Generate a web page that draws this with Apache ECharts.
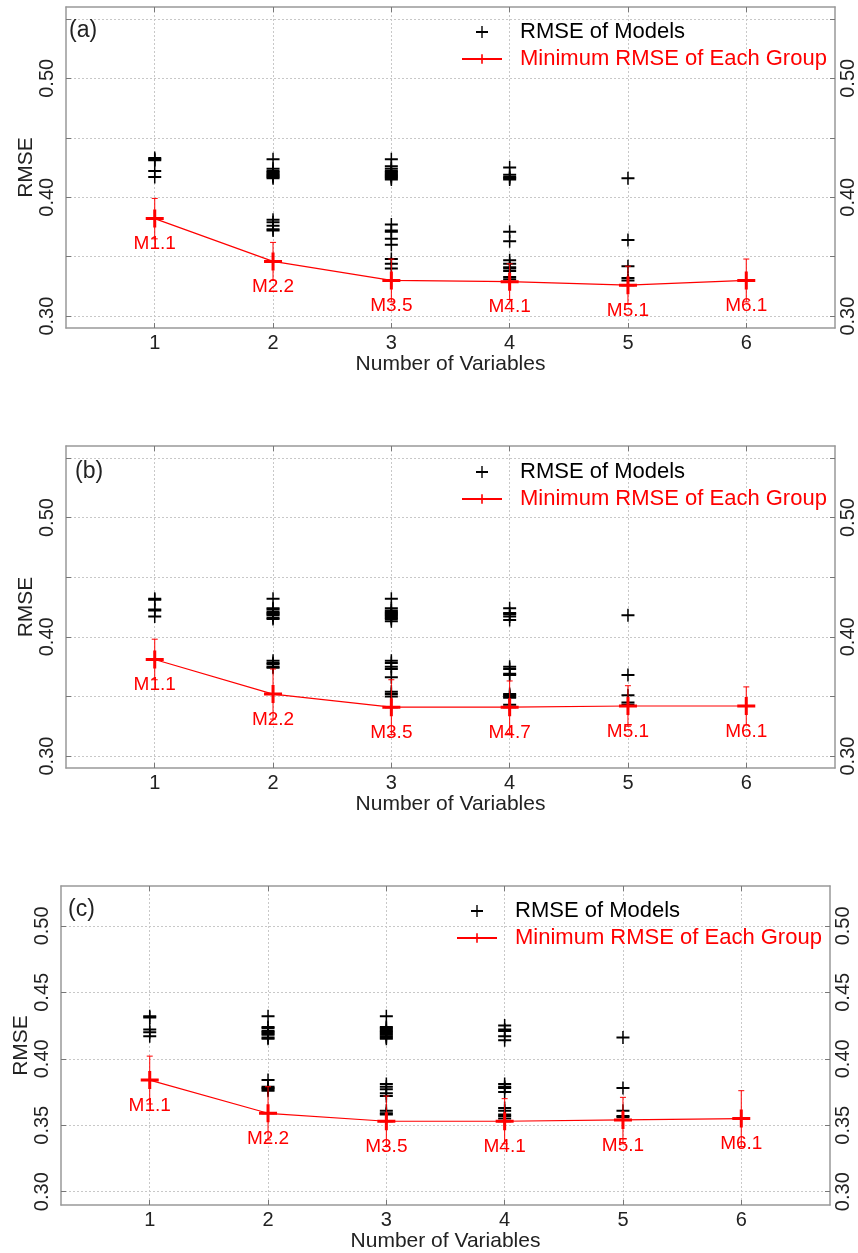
<!DOCTYPE html>
<html>
<head>
<meta charset="utf-8">
<script src="https://cdn.jsdelivr.net/npm/echarts@6/dist/echarts.min.js"></script>
<style>
html, body { margin: 0; padding: 0; background: #fff; }
#main { width: 858px; height: 1253px; }
</style>
</head>
<body>
<div id="main"></div>
<script>
// number of variables (x categories)
var xVars = [1, 2, 3, 4, 5, 6];

// RMSE of every model, grouped by number of variables -- panel (a)
var modelsA = [
    [0.433, 0.432, 0.431, 0.422, 0.417, 0.382],
    [0.432, 0.424, 0.422, 0.421, 0.420, 0.419, 0.418, 0.417, 0.416, 0.381, 0.379, 0.376, 0.373, 0.372, 0.346],
    [0.432, 0.426, 0.424, 0.422, 0.421, 0.420, 0.419, 0.418, 0.417, 0.416, 0.415, 0.377, 0.372, 0.371, 0.365, 0.360, 0.348, 0.344, 0.340, 0.330],
    [0.425, 0.419, 0.417, 0.416, 0.415, 0.371, 0.363, 0.347, 0.344, 0.341, 0.340, 0.338, 0.333, 0.331, 0.329],
    [0.416, 0.364, 0.342, 0.332, 0.330, 0.326],
    [0.330]
];
// panel (b)
var modelsB = [
    [0.432, 0.431, 0.423, 0.422, 0.417, 0.381],
    [0.432, 0.424, 0.423, 0.421, 0.420, 0.419, 0.418, 0.416, 0.415, 0.380, 0.378, 0.377, 0.375, 0.374, 0.352],
    [0.432, 0.424, 0.422, 0.421, 0.420, 0.419, 0.418, 0.417, 0.416, 0.415, 0.413, 0.380, 0.378, 0.375, 0.373, 0.366, 0.354, 0.352, 0.350, 0.341],
    [0.424, 0.420, 0.419, 0.417, 0.414, 0.375, 0.373, 0.369, 0.368, 0.352, 0.351, 0.350, 0.349, 0.343, 0.341],
    [0.418, 0.368, 0.351, 0.345, 0.343, 0.342],
    [0.342]
];
// panel (c)
var modelsC = [
    [0.432, 0.431, 0.422, 0.420, 0.417, 0.384],
    [0.432, 0.424, 0.423, 0.421, 0.420, 0.419, 0.418, 0.416, 0.415, 0.384, 0.379, 0.378, 0.377, 0.376, 0.359],
    [0.432, 0.424, 0.423, 0.422, 0.421, 0.420, 0.419, 0.418, 0.417, 0.416, 0.415, 0.381, 0.379, 0.377, 0.374, 0.372, 0.361, 0.359, 0.358, 0.353],
    [0.425, 0.422, 0.421, 0.417, 0.414, 0.381, 0.379, 0.378, 0.375, 0.363, 0.361, 0.358, 0.357, 0.355, 0.353],
    [0.416, 0.378, 0.361, 0.357, 0.356, 0.354],
    [0.355]
];

// minimum RMSE of each group and its error
var minA = [0.382, 0.346, 0.330, 0.329, 0.326, 0.330];
var errA = [0.017, 0.016, 0.018, 0.015, 0.016, 0.018];
var minB = [0.381, 0.352, 0.341, 0.341, 0.342, 0.342];
var errB = [0.017, 0.021, 0.023, 0.022, 0.017, 0.016];
var minC = [0.384, 0.359, 0.353, 0.353, 0.354, 0.355];
var errC = [0.018, 0.020, 0.019, 0.017, 0.017, 0.021];

// best model names
var namesA = ['M1.1', 'M2.2', 'M3.5', 'M4.1', 'M5.1', 'M6.1'];
var namesB = ['M1.1', 'M2.2', 'M3.5', 'M4.7', 'M5.1', 'M6.1'];
var namesC = ['M1.1', 'M2.2', 'M3.5', 'M4.1', 'M5.1', 'M6.1'];

// y axis ticks / labels
var yTicksAB = [0.30, 0.35, 0.40, 0.45, 0.50, 0.55];
var yLabelsAB = [0.30, 0.40, 0.50];
var yTicksC = [0.30, 0.35, 0.40, 0.45, 0.50];
var yLabelsC = [0.30, 0.35, 0.40, 0.45, 0.50];

var FONT = 'Liberation Sans, Arial, sans-serif';
var plusBlack = 'path://M0,5.5H13V7.5H0Z M5.75,0H7.25V13H5.75Z';
var plusRed = 'path://M0,7.5H18V10.5H0Z M7.5,0H10.5V18H7.5Z';

var panels = [
    { tag: '(a)', models: modelsA, min: minA, err: errA, names: namesA, ymin: 0.29, ymax: 0.56, ticks: yTicksAB, labels: yLabelsAB,
      grid: { left: 66, right: 23, top: 7, height: 321 }, tagPos: [69, 19], legendPos: [461, 21] },
    { tag: '(b)', models: modelsB, min: minB, err: errB, names: namesB, ymin: 0.29, ymax: 0.56, ticks: yTicksAB, labels: yLabelsAB,
      grid: { left: 66, right: 23, top: 446, height: 322 }, tagPos: [75, 460], legendPos: [461, 461] },
    { tag: '(c)', models: modelsC, min: minC, err: errC, names: namesC, ymin: 0.29, ymax: 0.53, ticks: yTicksC, labels: yLabelsC,
      grid: { left: 61, right: 28, top: 886, height: 321 }, tagPos: [68, 898], legendPos: [456, 900] }
];

var option = {
    backgroundColor: '#fff',
    animation: false,
    textStyle: { fontFamily: FONT },
    title: [], grid: [], xAxis: [], yAxis: [], legend: [], series: []
};

var gridLine = { show: true, lineStyle: { color: '#c8c8c8', type: [2, 2], width: 1 } };
var frameLine = { show: true, lineStyle: { color: '#999', width: 1.5 } };
var tickIn = { inside: true, length: 5, lineStyle: { color: '#777' } };

panels.forEach(function (p, i) {
    option.title.push({
        text: p.tag, left: p.tagPos[0], top: p.tagPos[1], padding: 0,
        textStyle: { fontSize: 23, fontWeight: 'normal', color: '#222', fontFamily: FONT }
    });
    option.grid.push(p.grid);

    // bottom x axis
    option.xAxis.push({
        type: 'value', gridIndex: i, min: 0.25, max: 6.75,
        name: 'Number of Variables', nameLocation: 'middle', nameGap: 26, nameMoveOverlap: false,
        nameTextStyle: { fontSize: 21, color: '#222' },
        axisLine: frameLine,
        axisTick: Object.assign({ customValues: xVars }, tickIn),
        axisLabel: { customValues: xVars, fontSize: 20, color: '#222', margin: 5 },
        splitLine: gridLine
    });
    // top x axis (frame + ticks)
    option.xAxis.push({
        type: 'value', gridIndex: i, position: 'top', min: 0.25, max: 6.75,
        axisLine: frameLine,
        axisTick: Object.assign({ customValues: xVars }, tickIn),
        axisLabel: { show: false },
        splitLine: { show: false }
    });
    // left y axis
    option.yAxis.push({
        type: 'value', gridIndex: i, min: p.ymin, max: p.ymax,
        name: 'RMSE', nameLocation: 'middle', nameGap: 29, nameRotate: 90, nameMoveOverlap: false,
        nameTextStyle: { fontSize: 21, color: '#222' },
        axisLine: frameLine,
        axisTick: Object.assign({ customValues: p.ticks }, tickIn),
        axisLabel: {
            customValues: p.labels, rotate: 90, fontSize: 20, color: '#222', margin: 9,
            formatter: function (v) { return v.toFixed(2); }
        },
        splitLine: gridLine
    });
    // right y axis
    option.yAxis.push({
        type: 'value', gridIndex: i, position: 'right', min: p.ymin, max: p.ymax,
        axisLine: frameLine,
        axisTick: Object.assign({ customValues: p.ticks }, tickIn),
        axisLabel: {
            customValues: p.labels, rotate: 90, fontSize: 20, color: '#222', margin: 3,
            formatter: function (v) { return v.toFixed(2); }
        },
        splitLine: { show: false }
    });

    option.legend.push({
        orient: 'vertical', left: p.legendPos[0], top: p.legendPos[1], padding: 0,
        itemWidth: 40, itemHeight: 12, itemGap: 5,
        data: [
            { name: 'RMSE of Models', textStyle: { color: '#000' } },
            { name: 'Minimum RMSE of Each Group', textStyle: { color: '#ff0000' } }
        ],
        textStyle: { fontSize: 22, fontFamily: FONT, padding: [0, 0, 0, 13] }
    });

    // all models as black plus marks
    var pts = [];
    p.models.forEach(function (g, k) {
        g.forEach(function (v) { pts.push([xVars[k], v]); });
    });
    option.series.push({
        name: 'RMSE of Models', type: 'scatter', xAxisIndex: 2 * i, yAxisIndex: 2 * i,
        symbol: plusBlack, symbolSize: 13,
        itemStyle: { color: '#000', opacity: 1 },
        data: pts, z: 3
    });

    // error bars on the minimum of each group
    var eb = xVars.map(function (x, k) { return [x, p.min[k], p.err[k]]; });
    option.series.push({
        type: 'custom', xAxisIndex: 2 * i, yAxisIndex: 2 * i,
        encode: { x: 0, y: 1 },
        data: eb, z: 4,
        renderItem: function (params, api) {
            var x = api.value(0), y = api.value(1), e = api.value(2);
            var hi = api.coord([x, y + e]);
            var lo = api.coord([x, y - e]);
            var st = { stroke: '#ff0000', lineWidth: 1 };
            return {
                type: 'group',
                children: [
                    { type: 'line', shape: { x1: hi[0], y1: hi[1], x2: lo[0], y2: lo[1] }, style: st },
                    { type: 'line', shape: { x1: hi[0] - 3, y1: hi[1], x2: hi[0] + 3, y2: hi[1] }, style: st },
                    { type: 'line', shape: { x1: lo[0] - 3, y1: lo[1], x2: lo[0] + 3, y2: lo[1] }, style: st }
                ]
            };
        }
    });

    // minimum RMSE line
    option.series.push({
        name: 'Minimum RMSE of Each Group', type: 'line', xAxisIndex: 2 * i, yAxisIndex: 2 * i,
        symbol: plusRed, symbolSize: 18,
        lineStyle: { color: '#ff0000', width: 1.2 },
        itemStyle: { color: '#ff0000' },
        label: {
            show: true, position: 'bottom', distance: 7, fontSize: 19, color: '#ff0000',
            formatter: (function (names) { return function (q) { return names[q.dataIndex]; }; })(p.names)
        },
        data: xVars.map(function (x, k) { return [x, p.min[k]]; }),
        z: 5
    });
});

var myChart = echarts.init(document.getElementById('main'));
myChart.setOption(option);
</script>
</body>
</html>
